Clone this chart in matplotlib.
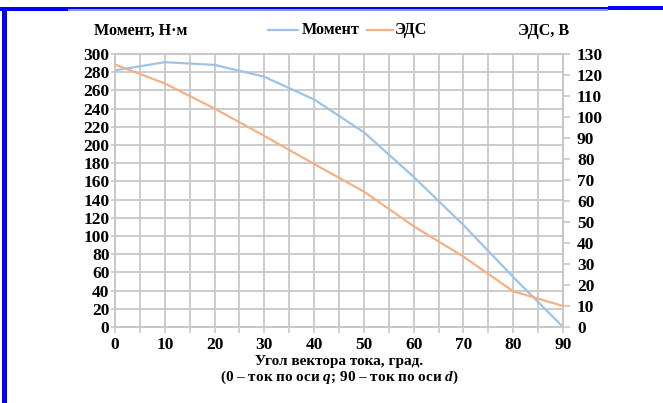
import matplotlib.pyplot as plt
from matplotlib.ticker import MultipleLocator
import matplotlib.patches as patches

# Data
angle = [0, 10, 20, 30, 40, 50, 60, 70, 80, 90]
torque = [282, 291, 288, 275, 250, 214, 165, 112, 55, 0]      # Момент, Н·м
emf = [125, 116, 104, 91, 77.6, 64.5, 48, 33.5, 17, 10]         # ЭДС, В

plt.rcParams['font.family'] = ['Liberation Serif', 'DejaVu Serif']
plt.rcParams['font.weight'] = 'bold'
plt.rcParams['mathtext.fontset'] = 'custom'
plt.rcParams['mathtext.rm'] = 'Liberation Serif:bold'
plt.rcParams['mathtext.it'] = 'Liberation Serif:bold:italic'

blue = '#9dc3e6'
orange = '#f4b183'
grid_c = '#c8c8c8'
tick_fs = 12.5
title_fs = 11.6
xl_fs = 11

W, H = 663, 403

fig = plt.figure(figsize=(6.63, 4.03), dpi=100)
ax = fig.add_axes([115 / W, 1 - 327 / H, (563 - 115) / W, (327 - 54) / H])
ax2 = ax.twinx()

ax.plot(angle, torque, color=blue, lw=1.6, zorder=3)
ax2.plot(angle, emf, color=orange, lw=1.6, zorder=3)

ax.set_xlim(0, 90)
ax.set_ylim(0, 300)
ax2.set_ylim(0, 130)

ax.xaxis.set_major_locator(MultipleLocator(10))
ax.xaxis.set_minor_locator(MultipleLocator(5))
ax.yaxis.set_major_locator(MultipleLocator(20))
ax2.yaxis.set_major_locator(MultipleLocator(10))

ax.grid(True, which='both', axis='x', color=grid_c, lw=1.3)
ax.grid(True, which='major', axis='y', color=grid_c, lw=1.3)
ax.set_axisbelow(True)

for a in (ax, ax2):
    for s in a.spines.values():
        s.set_color(grid_c)
        s.set_linewidth(1.3)
    a.tick_params(which='both', color=grid_c, length=3, width=1.2,
                  labelsize=tick_fs, pad=1)
    for lbl in a.get_xticklabels() + a.get_yticklabels():
        lbl.set_fontweight('bold')
ax.tick_params(axis='x', which='both', length=4, pad=3)
ax2.tick_params(axis='y', length=5, pad=5)

# x axis title, two lines
fig.text(339 / W, 1 - 362 / H, 'Угол вектора тока, град.', fontsize=xl_fs,
         fontweight='bold', ha='center', va='center')
fig.text(339 / W, 1 - 377 / H, '(0 – ток по оси $q$; 90 – ток по оси $d$)',
         fontsize=xl_fs, fontweight='bold', ha='center', va='center')

# axis titles above the plot
fig.text(94 / W, 1 - 31 / H, 'Момент, Н·м', fontsize=title_fs, fontweight='bold',
         va='center', ha='left')
fig.text(569 / W, 1 - 31 / H, 'ЭДС, В', fontsize=title_fs, fontweight='bold',
         va='center', ha='right')

# legend
ly = 1 - 30 / H
fig.add_artist(plt.Line2D([268 / W, 298 / W], [ly, ly], color=blue, lw=1.6))
fig.text(302 / W, ly, 'Момент', fontsize=title_fs, fontweight='bold', va='center')
fig.add_artist(plt.Line2D([367 / W, 393 / W], [ly, ly], color=orange, lw=1.6))
fig.text(395 / W, ly, 'ЭДС', fontsize=title_fs, fontweight='bold', va='center')

# blue frame of the original screenshot
def frame_rect(x0, y0, x1, y1, color):
    fig.add_artist(patches.Rectangle((x0 / W, 1 - y1 / H), (x1 - x0) / W, (y1 - y0) / H,
                                     transform=fig.transFigure, color=color, lw=0))

frame_rect(68, 9.3, 608, 10.5, '#8f96ee')
frame_rect(0, 7, 68, 11, '#0000ff')
frame_rect(68, 7, 608, 9.4, '#0000ff')
frame_rect(608, 6, W, 10, '#0000ff')
frame_rect(2, 7, 6.5, H, '#0000ff')

fig.savefig('out.png', dpi=100)
